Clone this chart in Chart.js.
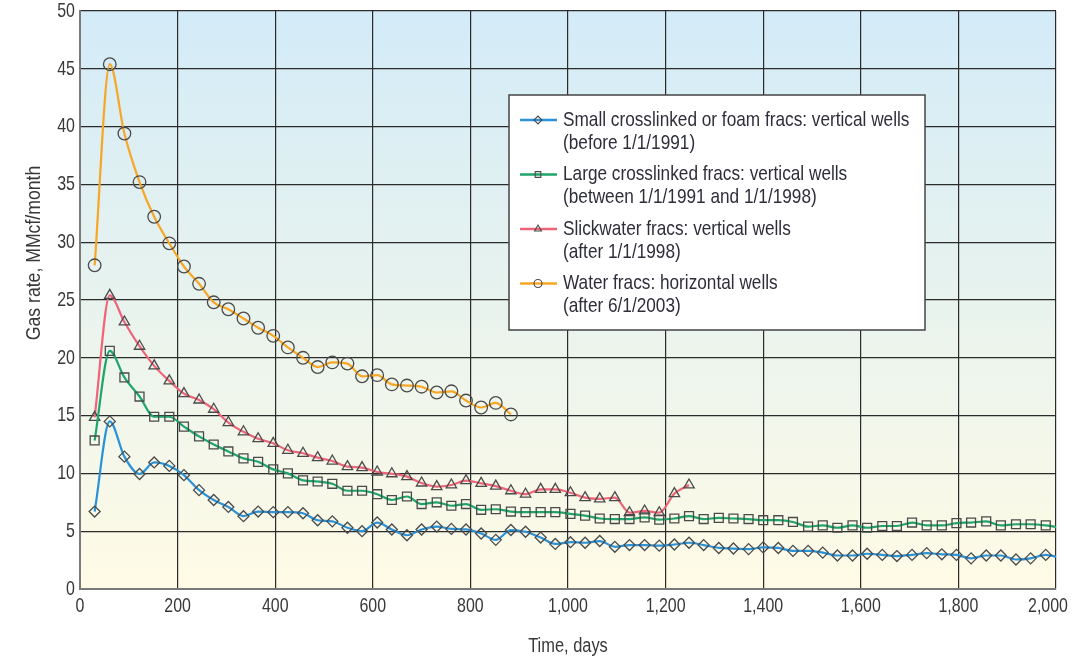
<!DOCTYPE html>
<html>
<head>
<meta charset="utf-8">
<script src="https://cdn.jsdelivr.net/npm/chart.js@4/dist/chart.umd.min.js"></script>
<style>
  body { margin: 0; background: #fff; }
  #wrap { width: 1092px; height: 657px; position: relative; }
</style>
</head>
<body>
<div id="wrap"><canvas id="gasChart"></canvas></div>
<script>
// time of each monthly reading, days
var days = [30, 61, 91, 122, 152, 183, 213, 244, 274, 304, 335, 365, 396, 426, 457, 487,
  517, 548, 578, 609, 639, 670, 700, 731, 761, 791, 822, 852, 883, 913, 944, 974,
  1005, 1035, 1065, 1096, 1126, 1157, 1187, 1218, 1248, 1278, 1309, 1339, 1370, 1400,
  1431, 1461, 1492, 1522, 1552, 1583, 1613, 1644, 1674, 1705, 1735, 1766, 1796, 1826,
  1857, 1887, 1918, 1948, 1979, 2009];

var smallFoam = [6.7, 14.5, 11.45, 9.95, 10.95, 10.65, 9.85, 8.55, 7.7, 7.1, 6.3, 6.7, 6.65,
  6.65, 6.55, 5.95, 5.85, 5.3, 5.0, 5.75, 5.15, 4.65, 5.15, 5.4, 5.2, 5.15, 4.8, 4.25, 5.1,
  4.95, 4.45, 3.9, 4.05, 4.0, 4.15, 3.65, 3.8, 3.8, 3.75, 3.85, 4.0, 3.8, 3.55, 3.5, 3.45,
  3.6, 3.55, 3.3, 3.3, 3.15, 2.9, 2.9, 3.05, 2.95, 2.85, 2.95, 3.1, 3.0, 2.95, 2.65, 2.9,
  2.9, 2.55, 2.65, 2.95, 2.7];

var largeXlink = [12.85, 20.6, 18.3, 16.65, 14.9, 14.9, 14.05, 13.2, 12.5, 11.9, 11.3, 11.0,
  10.35, 10.0, 9.4, 9.3, 9.1, 8.5, 8.5, 8.2, 7.7, 8.0, 7.35, 7.5, 7.2, 7.35, 6.85, 6.9, 6.7,
  6.65, 6.65, 6.65, 6.5, 6.35, 6.1, 6.05, 6.05, 6.2, 6.0, 6.1, 6.3, 6.05, 6.15, 6.1, 6.05,
  5.95, 5.95, 5.8, 5.4, 5.5, 5.3, 5.5, 5.3, 5.45, 5.45, 5.75, 5.5, 5.5, 5.7, 5.75, 5.85,
  5.5, 5.6, 5.6, 5.5, 5.3];

var slickwater = [14.85, 25.4, 23.1, 21.0, 19.3, 18.0, 16.9, 16.35, 15.55, 14.4, 13.6, 13.0,
  12.6, 12.0, 11.74, 11.36, 11.07, 10.58, 10.5, 10.12, 9.97, 9.72, 9.17, 8.86, 9.0, 9.37,
  9.14, 8.9, 8.5, 8.2, 8.62, 8.62, 8.33, 7.9, 7.8, 7.9, 6.6, 6.75, 6.6, 8.25, 9.0];

var waterHoriz = [28.0, 45.4, 39.4, 35.2, 32.2, 29.9, 27.9, 26.4, 24.8, 24.2, 23.4, 22.6,
  21.9, 20.9, 20.0, 19.2, 19.6, 19.5, 18.4, 18.5, 17.7, 17.6, 17.5, 17.0, 17.1, 16.3, 15.7,
  16.1, 15.1];

var seriesNames = [
  ["Small crosslinked or foam fracs: vertical wells", "(before 1/1/1991)"],
  ["Large crosslinked fracs: vertical wells", "(between 1/1/1991 and 1/1/1998)"],
  ["Slickwater fracs: vertical wells", "(after 1/1/1998)"],
  ["Water fracs: horizontal wells", "(after 6/1/2003)"]
];
var seriesColors = ["#2a92d8", "#1ea56c", "#ef6479", "#f7a625"];
var markerStyles = ["rectRot", "rect", "triangle", "circle"];
var markerSizes = [5.5, 6.3, 6, 6.3];

// no condensed face is installed, so text is squeezed sideways by hand
var FONT = "'Liberation Sans', Arial, sans-serif";
var TEXT = "#383838";

function narrowText(ctx, txt, x, y, size, sx, align, color) {
  ctx.save();
  ctx.translate(x, y);
  ctx.scale(sx, 1);
  ctx.font = size + "px " + FONT;
  ctx.fillStyle = color || TEXT;
  ctx.textAlign = align;
  ctx.textBaseline = 'middle';
  ctx.fillText(txt, 0, 0);
  ctx.restore();
}

function toPoints(vals) {
  return vals.map(function (v, i) { return { x: days[i], y: v }; });
}

var allSeries = [smallFoam, largeXlink, slickwater, waterHoriz];
var datasets = allSeries.map(function (vals, i) {
  return {
    label: seriesNames[i].join(" "),
    data: toPoints(vals),
    borderColor: seriesColors[i],
    borderWidth: 2.2,
    cubicInterpolationMode: 'monotone',
    pointStyle: markerStyles[i],
    pointRadius: function (c) { return c.parsed && c.parsed.x > 2000 ? 0 : markerSizes[i]; },
    pointBackgroundColor: 'rgba(0,0,0,0)',
    pointBorderColor: '#4a4a4a',
    pointBorderWidth: 1.3
  };
});

// gradient behind the plot area
var plotBackground = {
  id: 'plotBackground',
  beforeDraw: function (chart) {
    var a = chart.chartArea, ctx = chart.ctx;
    var g = ctx.createLinearGradient(0, a.top, 0, a.bottom);
    g.addColorStop(0, '#d3ebf8');
    g.addColorStop(0.5, '#e8f3ee');
    g.addColorStop(1, '#fffbe6');
    ctx.save();
    ctx.fillStyle = g;
    ctx.fillRect(a.left, a.top, a.right - a.left, a.bottom - a.top);
    ctx.restore();
  }
};

// tick labels, axis titles and the boxed legend
var extras = {
  id: 'extras',
  afterDraw: function (chart) {
    var a = chart.chartArea, ctx = chart.ctx;
    var xs = chart.scales.x, ys = chart.scales.y;

    xs.ticks.forEach(function (t, i) {
      var px = xs.getPixelForValue(t.value);
      var last = i === xs.ticks.length - 1;
      narrowText(ctx, t.value.toLocaleString('en-US'), last ? px + 12 : px, a.bottom + 17, 21, 0.76,
        last ? 'right' : 'center');
    });
    ys.ticks.forEach(function (t) {
      narrowText(ctx, String(t.value), a.left - 5, ys.getPixelForValue(t.value), 21, 0.76, 'right');
    });

    narrowText(ctx, "Time, days", (a.left + a.right) / 2, a.bottom + 57, 20, 0.82, 'center');
    ctx.save();
    ctx.translate(a.left - 46, a.top + 242);
    ctx.rotate(-Math.PI / 2);
    narrowText(ctx, "Gas rate, MMcf/month", 0, 0, 20.5, 0.86, 'center');
    ctx.restore();

    var bx = a.left + 429, by = a.top + 84, bw = 416, bh = 235;
    ctx.save();
    ctx.fillStyle = '#fff';
    ctx.fillRect(bx, by, bw, bh);
    ctx.strokeStyle = '#444';
    ctx.lineWidth = 1.5;
    ctx.strokeRect(bx, by, bw, bh);
    for (var i = 0; i < seriesNames.length; i++) {
      var ly = by + 25 + i * 54.5;
      ctx.strokeStyle = seriesColors[i];
      ctx.lineWidth = 2.5;
      ctx.beginPath();
      ctx.moveTo(bx + 11, ly);
      ctx.lineTo(bx + 48, ly);
      ctx.stroke();
      ctx.strokeStyle = '#4a4a4a';
      ctx.fillStyle = 'rgba(0,0,0,0)';
      ctx.lineWidth = 1.1;
      Chart.helpers.drawPoint(ctx, { pointStyle: markerStyles[i], radius: 4, rotation: 0, borderWidth: 1.1 }, bx + 29, ly);
      narrowText(ctx, seriesNames[i][0], bx + 54, ly, 21, 0.82, 'left', '#2e2e3a');
      narrowText(ctx, seriesNames[i][1], bx + 54, ly + 23, 21, 0.82, 'left', '#2e2e3a');
    }
    ctx.restore();
  }
};

var ctx = document.getElementById('gasChart');
var gasChart = new Chart(ctx, {
  type: 'line',
  data: { datasets: datasets },
  options: {
    responsive: true,
    maintainAspectRatio: false,
    animation: false,
    layout: { padding: { left: 0, right: 36, top: 11, bottom: 0 } },
    plugins: {
      legend: { display: false },
      tooltip: { enabled: false }
    },
    scales: {
      x: {
        type: 'linear',
        min: 0,
        max: 2000,
        ticks: { stepSize: 200, display: false },
        grid: { color: '#2b2b2b', lineWidth: 1.2, drawTicks: false },
        border: { color: '#7a7a7a', width: 2 },
        afterFit: function (s) { s.height = 68; }
      },
      y: {
        min: 0,
        max: 50,
        ticks: { stepSize: 5, display: false },
        grid: { color: '#2b2b2b', lineWidth: 1.2, drawTicks: false },
        border: { color: '#7a7a7a', width: 2 },
        afterFit: function (s) { s.width = 80; }
      }
    }
  },
  plugins: [plotBackground, extras]
});
</script>
</body>
</html>
